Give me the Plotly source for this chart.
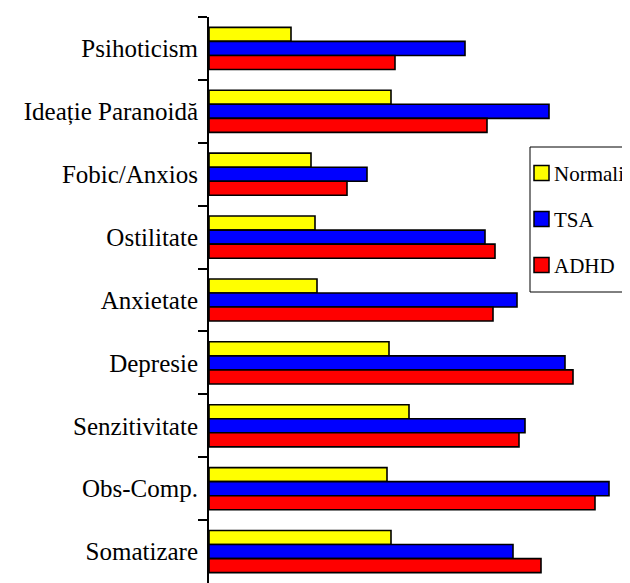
import plotly.graph_objects as go

categories = ["Psihoticism", "Ideație Paranoidă", "Fobic/Anxios", "Ostilitate", "Anxietate",
              "Depresie", "Senzitivitate", "Obs-Comp.", "Somatizare"]
normali = [0.41, 0.91, 0.51, 0.53, 0.54, 0.90, 1.00, 0.89, 0.91]
tsa     = [1.28, 1.70, 0.79, 1.38, 1.54, 1.78, 1.58, 2.00, 1.52]
adhd    = [0.93, 1.39, 0.69, 1.43, 1.42, 1.82, 1.55, 1.93, 1.66]

series_names = ["Normali", "TSA", "ADHD"]
series_values = [normali, tsa, adhd]
series_colors = ["#FFFF00", "#0000FF", "#FF0000"]

OFF = 8  # default page body margin
W, H = 630 - OFF, 583 - OFF
ML, MT = 209 - OFF, 17 - OFF
PW, PH = W - ML, H - MT


def px(x):
    return (x - OFF - ML) / PW


def py(y):
    return 1 - (y - OFF - MT) / PH


fig = go.Figure()
for name, vals, col in zip(series_names, series_values, series_colors):
    fig.add_trace(go.Bar(
        y=categories, x=vals, name=name, orientation="h",
        marker=dict(color=col, line=dict(color="black", width=1.6)),
        showlegend=False,
    ))

# manual legend (box runs past the right edge like the reference)
shapes = [dict(type="rect", xref="paper", yref="paper",
               x0=px(530), x1=px(700), y0=py(292), y1=py(147),
               line=dict(color="black", width=1), fillcolor="white", layer="above")]
annotations = []
for i, (name, col) in enumerate(zip(series_names, series_colors)):
    cy = 173 + i * 46
    shapes.append(dict(type="rect", xref="paper", yref="paper",
                       x0=px(534), x1=px(549), y0=py(cy + 7.5), y1=py(cy - 7.5),
                       line=dict(color="black", width=1.5), fillcolor=col, layer="above"))
    annotations.append(dict(xref="paper", yref="paper", x=px(552), y=py(cy + 1),
                            text=name, showarrow=False, xanchor="left", yanchor="middle",
                            font=dict(family="Liberation Serif", size=21, color="black")))

fig.update_layout(
    width=W, height=H,
    margin=dict(l=ML, r=0, t=MT, b=0, autoexpand=False),
    paper_bgcolor="white", plot_bgcolor="white",
    barmode="group", bargap=0.33, bargroupgap=0,
    font=dict(family="Liberation Serif", size=25, color="black"),
    showlegend=False,
    shapes=shapes, annotations=annotations,
    xaxis=dict(range=[0, 2.105], visible=False, fixedrange=True),
    yaxis=dict(
        autorange=False, range=[8.5, -0.5], automargin=False,
        showline=True, linecolor="black", linewidth=2,
        ticks="outside", ticklen=9, tickwidth=2, tickcolor="black",
        tickson="boundaries", showgrid=False, ticklabelstandoff=4,
    ),
)

fig.write_html("out.html")
